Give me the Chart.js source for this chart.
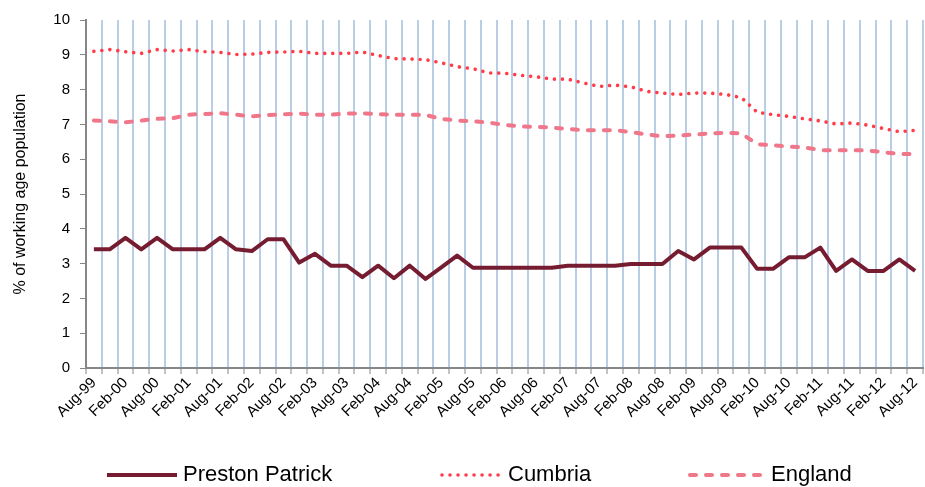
<!DOCTYPE html>
<html>
<head>
<meta charset="utf-8">
<script src="https://cdn.jsdelivr.net/npm/chart.js@4/dist/chart.umd.min.js"></script>
<style>
html,body{margin:0;padding:0;background:#ffffff;}
#wrap{width:925px;height:487px;}
</style>
</head>
<body>
<div id="wrap"><canvas id="c" width="925" height="487"></canvas></div>
<script>
const quarters = [
  "Aug-99","Nov-99","Feb-00","May-00","Aug-00","Nov-00","Feb-01","May-01","Aug-01","Nov-01",
  "Feb-02","May-02","Aug-02","Nov-02","Feb-03","May-03","Aug-03","Nov-03","Feb-04","May-04",
  "Aug-04","Nov-04","Feb-05","May-05","Aug-05","Nov-05","Feb-06","May-06","Aug-06","Nov-06",
  "Feb-07","May-07","Aug-07","Nov-07","Feb-08","May-08","Aug-08","Nov-08","Feb-09","May-09",
  "Aug-09","Nov-09","Feb-10","May-10","Aug-10","Nov-10","Feb-11","May-11","Aug-11","Nov-11",
  "Feb-12","May-12","Aug-12"
];

const prestonPatrick = [
  3.41,3.41,3.74,3.41,3.74,3.41,3.41,3.41,3.74,3.41,
  3.36,3.70,3.70,3.03,3.28,2.94,2.94,2.61,2.94,2.58,
  2.94,2.56,2.89,3.23,2.88,2.88,2.88,2.88,2.88,2.88,
  2.94,2.94,2.94,2.94,2.99,2.99,2.99,3.36,3.12,3.46,
  3.46,3.46,2.85,2.85,3.18,3.18,3.46,2.79,3.12,2.79,
  2.79,3.12,2.79
];

const cumbria = [
  9.10,9.15,9.09,9.04,9.15,9.11,9.15,9.09,9.07,9.01,
  9.02,9.07,9.08,9.10,9.04,9.04,9.04,9.08,8.98,8.89,
  8.88,8.86,8.77,8.66,8.60,8.48,8.47,8.41,8.37,8.30,
  8.30,8.19,8.09,8.13,8.08,7.95,7.90,7.86,7.90,7.90,
  7.86,7.77,7.35,7.28,7.23,7.16,7.10,7.01,7.04,6.98,
  6.88,6.79,6.83
];

const england = [
  7.11,7.09,7.06,7.11,7.16,7.18,7.28,7.30,7.32,7.28,
  7.23,7.27,7.29,7.31,7.28,7.28,7.31,7.32,7.29,7.28,
  7.28,7.27,7.16,7.11,7.09,7.05,6.99,6.94,6.93,6.91,
  6.87,6.83,6.83,6.83,6.78,6.71,6.66,6.68,6.71,6.74,
  6.76,6.74,6.43,6.40,6.36,6.34,6.26,6.26,6.26,6.25,
  6.20,6.15,6.15
];

const seriesNames = ["Preston Patrick","Cumbria","England"];
const yTicks = [0,1,2,3,4,5,6,7,8,9,10];

const FONT = "'Liberation Sans', Arial, sans-serif";

// custom legend (layout only)
const legendLayout = { y: 475, starts: [107, 442, 690], widths: [70, 60, 75], gap: 6, size: 22 };

const lineLegend = {
  id: 'lineLegend',
  afterDraw(chart) {
    const ctx = chart.ctx;
    chart.data.datasets.forEach((ds, i) => {
      const x0 = legendLayout.starts[i];
      const w = legendLayout.widths[i];
      const y = legendLayout.y;
      ctx.save();
      ctx.strokeStyle = ds.borderColor;
      ctx.lineWidth = ds.borderWidth;
      ctx.lineCap = ds.borderCapStyle || 'butt';
      ctx.setLineDash(ds.borderDash || []);
      ctx.beginPath();
      ctx.moveTo(x0, y);
      ctx.lineTo(x0 + w, y);
      ctx.stroke();
      ctx.setLineDash([]);
      ctx.fillStyle = '#000000';
      ctx.font = legendLayout.size + 'px ' + FONT;
      ctx.textBaseline = 'middle';
      ctx.textAlign = 'left';
      ctx.fillText(ds.label, x0 + w + legendLayout.gap, y);
      ctx.restore();
    });
  }
};

new Chart(document.getElementById('c'), {
  type: 'line',
  data: {
    labels: quarters,
    datasets: [
      {
        label: seriesNames[0],
        data: prestonPatrick,
        borderColor: '#761c30',
        backgroundColor: '#761c30',
        borderWidth: 4,
        borderJoinStyle: 'round',
        borderCapStyle: 'butt',
        pointRadius: 0,
        tension: 0,
        fill: false
      },
      {
        label: seriesNames[1],
        data: cumbria,
        borderColor: '#ff3c48',
        backgroundColor: '#ff3c48',
        borderWidth: 3.6,
        borderDash: [0.01, 8],
        borderCapStyle: 'round',
        pointRadius: 0,
        tension: 0,
        fill: false
      },
      {
        label: seriesNames[2],
        data: england,
        borderColor: '#f07689',
        backgroundColor: '#f07689',
        borderWidth: 4,
        borderDash: [6, 10],
        borderCapStyle: 'round',
        pointRadius: 0,
        tension: 0,
        fill: false
      }
    ]
  },
  options: {
    responsive: false,
    animation: false,
    layout: { padding: { left: 0, right: 2, top: 20, bottom: 60 } },
    plugins: {
      legend: { display: false },
      tooltip: { enabled: false }
    },
    scales: {
      x: {
        type: 'category',
        offset: true,
        afterFit: s => { s.height = 59; s.paddingRight = 0; s.paddingLeft = 0; },
        grid: {
          offset: true,
          color: '#b9cde5',
          lineWidth: 2,
          drawTicks: true,
          tickLength: 6,
          tickColor: '#868686',
          tickWidth: 1,
          z: -1
        },
        border: { display: true, color: '#868686', width: 2 },
        ticks: {
          autoSkip: false,
          maxRotation: 45,
          minRotation: 45,
          color: '#000000',
          padding: 0,
          font: { family: FONT, size: 15 },
          callback: function(value, index) { return index % 2 === 0 ? quarters[index] : ''; }
        }
      },
      y: {
        min: 0,
        max: 10,
        afterFit: s => { s.width = 86; },
        afterBuildTicks: s => { s.ticks = yTicks.map(v => ({ value: v })); },
        grid: {
          drawOnChartArea: false,
          drawTicks: true,
          tickLength: 6,
          color: '#868686',
          tickColor: '#868686'
        },
        border: { display: true, color: '#868686', width: 2 },
        ticks: {
          color: '#000000',
          padding: 10,
          font: { family: FONT, size: 15 }
        },
        title: {
          display: true,
          text: '% of working age population',
          color: '#000000',
          font: { family: FONT, size: 16 },
          padding: { top: 11, bottom: 0 }
        }
      }
    }
  },
  plugins: [lineLegend]
});
</script>
</body>
</html>
